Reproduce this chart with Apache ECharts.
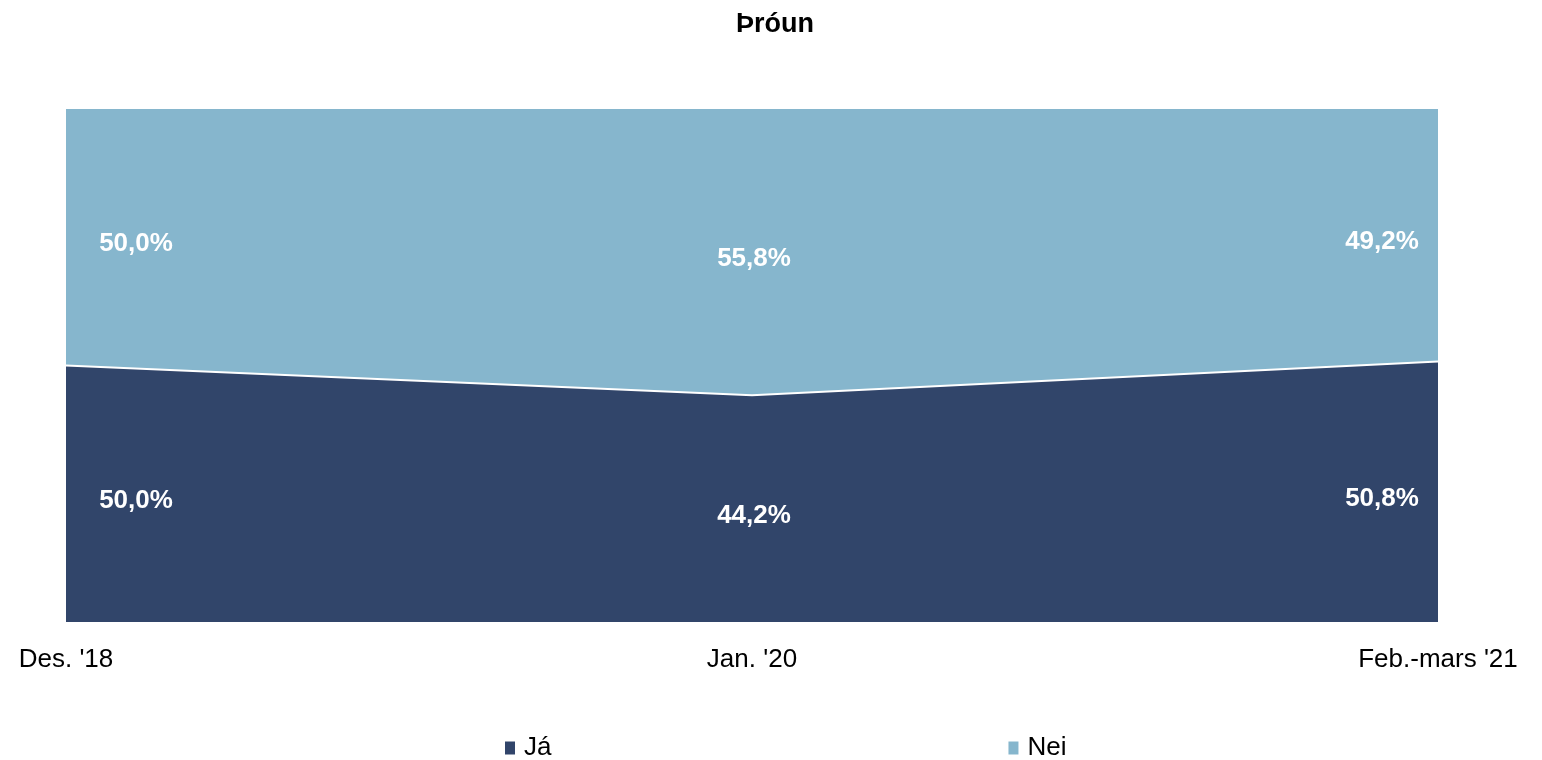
<!DOCTYPE html>
<html>
<head>
<meta charset="utf-8">
<script src="https://cdn.jsdelivr.net/npm/echarts@6/dist/echarts.min.js"></script>
<style>
  html, body { margin: 0; padding: 0; background: #ffffff; }
  #main { width: 1542px; height: 760px; }
</style>
</head>
<body>
<div id="main"></div>
<script>
var categories = ["Des. '18", "Jan. '20", "Feb.-mars '21"];
var jaValues = [50.0, 44.2, 50.8];
var neiValues = [50.0, 55.8, 49.2];

var jaColor = '#31456a';
var neiColor = '#86b6cd';
var fontName = 'Liberation Sans, Arial, sans-serif';

// label positions: middle of each band
var jaMid = jaValues.map(function (v) { return v / 2; });
var neiMid = neiValues.map(function (v, i) { return jaValues[i] + v / 2; });
var labelOffsets = [[70, 7], [2, 7], [-56, 7]];

function fmt(v) {
  return v.toFixed(1).replace('.', ',') + '%';
}

function labelData(mids, raw) {
  return mids.map(function (m, i) {
    return {
      value: m,
      raw: raw[i],
      label: { offset: labelOffsets[i] }
    };
  });
}

var labelStyle = {
  show: true,
  position: 'inside',
  color: '#ffffff',
  fontWeight: 'bold',
  fontSize: 26,
  fontFamily: fontName,
  formatter: function (p) { return fmt(p.data.raw); }
};

var myChart = echarts.init(document.getElementById('main'));
var option = {
  animation: false,
  title: {
    text: 'Þróun',
    left: 731,
    top: 6,
    textStyle: {
      fontFamily: fontName,
      fontWeight: 'bold',
      fontSize: 27,
      color: '#000000'
    }
  },
  legend: {
    top: 735,
    left: 505,
    padding: 0,
    itemGap: 457,
    itemWidth: 10,
    itemHeight: 13,
    icon: 'rect',
    data: ['Já', 'Nei'],
    textStyle: {
      fontFamily: fontName,
      fontSize: 26,
      color: '#000000',
      padding: [0, 0, 0, 4]
    }
  },
  grid: {
    left: 66,
    right: 104,
    top: 109,
    bottom: 138
  },
  xAxis: {
    type: 'category',
    boundaryGap: false,
    data: categories,
    axisLine: { show: false },
    axisTick: { show: false },
    axisLabel: {
      margin: 25,
      fontFamily: fontName,
      fontSize: 26,
      color: '#000000'
    }
  },
  yAxis: {
    type: 'value',
    min: 0,
    max: 100,
    show: false
  },
  series: [
    {
      name: 'Já',
      type: 'line',
      stack: 'total',
      data: jaValues,
      symbol: 'none',
      lineStyle: { width: 2, color: '#ffffff' },
      itemStyle: { color: jaColor },
      areaStyle: { color: jaColor, opacity: 1 },
      z: 3
    },
    {
      name: 'Nei',
      type: 'line',
      stack: 'total',
      data: neiValues,
      symbol: 'none',
      lineStyle: { width: 0 },
      itemStyle: { color: neiColor },
      areaStyle: { color: neiColor, opacity: 1 },
      z: 2
    },
    {
      name: 'jaLabels',
      type: 'line',
      data: labelData(jaMid, jaValues),
      symbol: 'circle',
      symbolSize: 0,
      lineStyle: { width: 0, opacity: 0 },
      label: labelStyle,
      silent: true,
      z: 5
    },
    {
      name: 'neiLabels',
      type: 'line',
      data: labelData(neiMid, neiValues),
      symbol: 'circle',
      symbolSize: 0,
      lineStyle: { width: 0, opacity: 0 },
      label: labelStyle,
      silent: true,
      z: 5
    }
  ]
};
myChart.setOption(option);
</script>
</body>
</html>
